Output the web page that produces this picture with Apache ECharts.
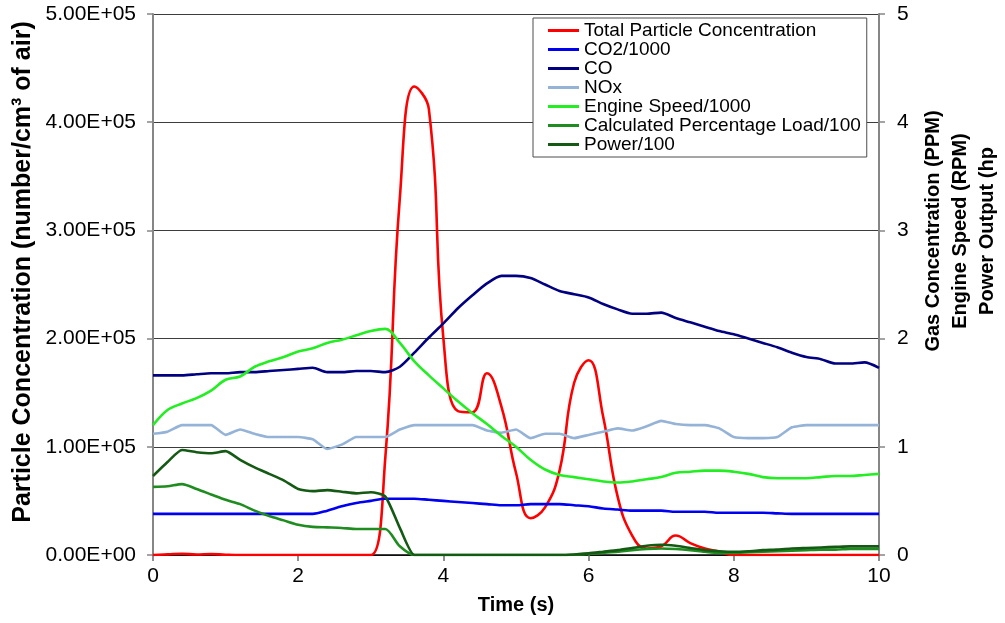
<!DOCTYPE html>
<html>
<head>
<meta charset="utf-8">
<title>Particle and Gas Concentration vs Time</title>
<script src="https://cdn.jsdelivr.net/npm/echarts@6/dist/echarts.min.js"></script>
<style>
  html, body { margin: 0; padding: 0; background: #fff; }
  #chart { width: 1005px; height: 623px; }
</style>
</head>
<body>
<div id="chart"></div>
<script>
// Sample times (s), one reading every 0.2 s
const times = [0, 0.2, 0.4, 0.6, 0.8, 1.0, 1.2, 1.4, 1.6, 1.8, 2.0, 2.2, 2.4, 2.6, 2.8, 3.0, 3.2, 3.4, 3.6, 3.8, 4.0,
  4.2, 4.4, 4.6, 4.8, 5.0, 5.2, 5.4, 5.6, 5.8, 6.0, 6.2, 6.4, 6.6, 6.8, 7.0, 7.2, 7.4, 7.6, 7.8, 8.0,
  8.2, 8.4, 8.6, 8.8, 9.0, 9.2, 9.4, 9.6, 9.8, 10.0];

// Total particle concentration (number/cm3 of air), left axis
const particles = [0, 600, 1200, 400, 900, 300, 0, 0, 0, 0, 0, 0, 0, 0, 0, 0, 90000, 330000, 433000, 412000, 200000,
  133000, 132000, 168000, 137000, 76000, 34000, 44000, 78000, 159000, 180000, 128000, 54000, 18000, 6000, 8000,
  18000, 11000, 6000, 3000, 0, 0, 0, 0, 0, 0, 0, 0, 0, 0, 0];

// Right-axis series (already scaled as named in the legend)
const co2 = [0.38, 0.38, 0.38, 0.38, 0.38, 0.38, 0.38, 0.38, 0.38, 0.38, 0.38, 0.38, 0.41, 0.45, 0.48, 0.50,
  0.52, 0.52, 0.52, 0.51, 0.50, 0.49, 0.48, 0.47, 0.46, 0.46, 0.47, 0.47, 0.47, 0.46, 0.45, 0.43, 0.42, 0.41,
  0.41, 0.41, 0.40, 0.40, 0.40, 0.39, 0.39, 0.39, 0.39, 0.385, 0.38, 0.38, 0.38, 0.38, 0.38, 0.38, 0.38];

const co = [1.66, 1.66, 1.66, 1.67, 1.68, 1.68, 1.69, 1.69, 1.70, 1.71, 1.72, 1.73, 1.69, 1.69, 1.70, 1.70,
  1.69, 1.74, 1.87, 2.01, 2.14, 2.28, 2.40, 2.51, 2.58, 2.58, 2.56, 2.50, 2.44, 2.41, 2.38, 2.32, 2.27, 2.23,
  2.23, 2.24, 2.19, 2.15, 2.11, 2.07, 2.04, 2.00, 1.96, 1.92, 1.87, 1.83, 1.81, 1.77, 1.77, 1.78, 1.73];

const nox = [1.12, 1.14, 1.20, 1.20, 1.20, 1.11, 1.16, 1.12, 1.09, 1.09, 1.09, 1.07, 0.98, 1.02, 1.09, 1.09,
  1.09, 1.16, 1.20, 1.20, 1.20, 1.20, 1.20, 1.15, 1.13, 1.16, 1.08, 1.12, 1.12, 1.08, 1.11, 1.14, 1.17, 1.15,
  1.19, 1.24, 1.21, 1.20, 1.20, 1.17, 1.09, 1.08, 1.08, 1.09, 1.18, 1.20, 1.20, 1.20, 1.20, 1.20, 1.20];

const engineSpeed = [1.20, 1.34, 1.40, 1.45, 1.52, 1.62, 1.65, 1.74, 1.79, 1.83, 1.88, 1.91, 1.96, 1.99, 2.03,
  2.07, 2.09, 1.96, 1.79, 1.66, 1.54, 1.42, 1.31, 1.21, 1.10, 1.00, 0.88, 0.79, 0.74, 0.72, 0.70, 0.68, 0.67,
  0.68, 0.70, 0.72, 0.76, 0.77, 0.78, 0.78, 0.77, 0.75, 0.72, 0.71, 0.71, 0.71, 0.72, 0.73, 0.73, 0.74, 0.75];

const load = [0.63, 0.635, 0.655, 0.61, 0.56, 0.51, 0.47, 0.41, 0.36, 0.32, 0.28, 0.26, 0.255, 0.25, 0.24, 0.24,
  0.24, 0.08, 0, 0, 0, 0, 0, 0, 0, 0, 0, 0, 0, 0.003, 0.01, 0.02, 0.03, 0.045, 0.055, 0.06, 0.055, 0.045, 0.03,
  0.02, 0.02, 0.025, 0.03, 0.035, 0.04, 0.045, 0.05, 0.05, 0.055, 0.055, 0.055];

const power = [0.73, 0.86, 0.97, 0.95, 0.94, 0.96, 0.88, 0.81, 0.75, 0.69, 0.61, 0.59, 0.60, 0.585, 0.57, 0.58,
  0.54, 0.25, 0, 0, 0, 0, 0, 0, 0, 0, 0, 0, 0, 0.005, 0.015, 0.03, 0.045, 0.065, 0.085, 0.095, 0.085, 0.065,
  0.045, 0.035, 0.03, 0.035, 0.045, 0.05, 0.06, 0.065, 0.07, 0.075, 0.08, 0.08, 0.08];

const xTicks = { min: 0, max: 10, interval: 2 };
const leftTicks = { min: 0, max: 500000, interval: 100000 };
const rightTicks = { min: 0, max: 5, interval: 1 };

const FONT = 'Liberation Sans, Arial, sans-serif';

function pairs(values) {
  return times.map((t, i) => [t, values[i]]);
}

// Scientific tick labels such as 5.00E+05
function sci(v) {
  if (v === 0) return '0.00E+00';
  const e = Math.floor(Math.log10(v) + 1e-9);
  const m = (v / Math.pow(10, e)).toFixed(2);
  return m + 'E+' + String(e).padStart(2, '0');
}

function line(name, values, color, axis, smooth) {
  return {
    name: name,
    type: 'line',
    yAxisIndex: axis,
    data: pairs(values),
    symbol: 'none',
    smooth: smooth,
    lineStyle: { color: color, width: 2.6 },
    itemStyle: { color: color },
    clip: true
  };
}

const chart = echarts.init(document.getElementById('chart'), null, { renderer: 'canvas' });

chart.setOption({
  animation: false,
  backgroundColor: '#ffffff',
  textStyle: { fontFamily: FONT },
  grid: { left: 153, right: 126, top: 14, bottom: 68, containLabel: false },
  legend: {
    orient: 'vertical',
    left: 533,
    top: 18,
    icon: 'rect',
    itemWidth: 31,
    itemHeight: 3,
    itemGap: 0,
    padding: [3, 6, 3, 15],
    backgroundColor: '#ffffff',
    borderColor: '#4d4d4d',
    borderWidth: 1,
    borderRadius: 0,
    textStyle: { fontFamily: FONT, fontSize: 19, color: '#000', lineHeight: 19 }
  },
  xAxis: {
    type: 'value',
    min: xTicks.min,
    max: xTicks.max,
    interval: xTicks.interval,
    axisLine: { show: true, onZero: false, lineStyle: { color: '#000', width: 1.5 } },
    axisTick: { show: true, inside: false, length: 6, lineStyle: { color: '#6b6b6b', width: 1.5 } },
    axisLabel: { fontFamily: FONT, fontSize: 21, color: '#000', margin: 11 },
    splitLine: { show: false }
  },
  yAxis: [
    {
      type: 'value',
      position: 'left',
      min: leftTicks.min,
      max: leftTicks.max,
      interval: leftTicks.interval,
      axisLine: { show: true, lineStyle: { color: '#868686', width: 2 } },
      axisTick: { show: true, inside: false, length: 6, lineStyle: { color: '#868686', width: 1.5 } },
      axisLabel: { fontFamily: FONT, fontSize: 21, color: '#000', margin: 17, formatter: sci },
      splitLine: { show: true, lineStyle: { color: '#3c3c3c', width: 1.2 } }
    },
    {
      type: 'value',
      position: 'right',
      min: rightTicks.min,
      max: rightTicks.max,
      interval: rightTicks.interval,
      axisLine: { show: true, lineStyle: { color: '#868686', width: 2 } },
      axisTick: { show: true, inside: false, length: 6, lineStyle: { color: '#868686', width: 1.5 } },
      axisLabel: { fontFamily: FONT, fontSize: 21, color: '#000', margin: 18 },
      splitLine: { show: false }
    }
  ],
  graphic: [
    {
      type: 'text',
      x: 23,
      y: 272,
      rotation: Math.PI / 2,
      style: {
        text: 'Particle Concentration (number/cm³ of air)',
        fontFamily: FONT,
        fontSize: 25,
        fontWeight: 'bold',
        fill: '#000',
        align: 'center',
        verticalAlign: 'middle'
      }
    },
    {
      type: 'text',
      x: 960,
      y: 231,
      rotation: Math.PI / 2,
      style: {
        text: 'Gas Concentration (PPM)\nEngine Speed (RPM)\nPower Output (hp',
        fontFamily: FONT,
        fontSize: 20,
        fontWeight: 'bold',
        lineHeight: 27,
        fill: '#000',
        align: 'center',
        verticalAlign: 'middle'
      }
    },
    {
      type: 'text',
      x: 516,
      y: 605,
      style: {
        text: 'Time (s)',
        fontFamily: FONT,
        fontSize: 20,
        fontWeight: 'bold',
        fill: '#000',
        align: 'center',
        verticalAlign: 'middle'
      }
    }
  ],
  series: [
    line('Total Particle Concentration', particles, '#ff0000', 0, 0.45),
    line('CO2/1000', co2, '#0000f0', 1, 0.3),
    line('CO', co, '#000080', 1, 0.25),
    line('NOx', nox, '#95b3d7', 1, 0.15),
    line('Engine Speed/1000', engineSpeed, '#22ee22', 1, 0.35),
    line('Calculated Percentage Load/100', load, '#1e8c1e', 1, 0.25),
    line('Power/100', power, '#145a14', 1, 0.2)
  ]
});
</script>
</body>
</html>
